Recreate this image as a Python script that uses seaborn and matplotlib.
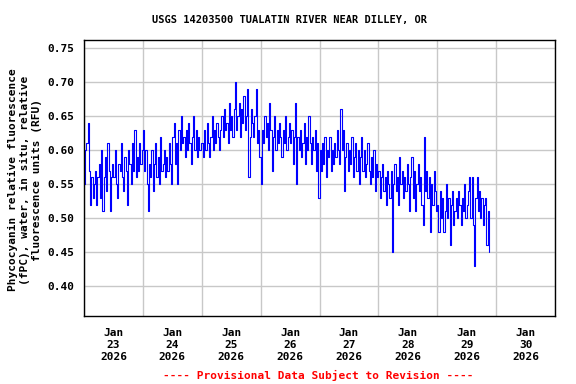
import pandas as pd
import numpy as np
import seaborn as sns
import matplotlib.pyplot as plt
import matplotlib.dates as mdates

# Phycocyanin readings, hundredths of RFU, every 30 min from Jan 23 00:00
jan23 = [55, 60, 61, 64, 57, 52, 56, 53, 55, 57, 52, 56, 58, 53, 60, 51,
         56, 59, 54, 61, 57, 51, 56, 58, 56, 60, 55, 53, 58, 57, 61, 56,
         54, 59, 57, 52, 60, 58, 55, 61, 57, 63, 56, 59, 57, 61, 58, 60]
jan24 = [63, 57, 60, 55, 51, 58, 56, 60, 54, 58, 61, 56, 59, 55, 62, 57,
         58, 60, 56, 59, 57, 61, 58, 55, 62, 64, 58, 61, 55, 63, 60, 65,
         61, 62, 59, 63, 60, 64, 61, 58, 62, 65, 60, 63, 59, 62, 60, 61]
jan25 = [61, 59, 63, 60, 64, 61, 59, 62, 65, 60, 63, 61, 64, 62, 60, 63,
         65, 62, 66, 63, 64, 61, 67, 63, 65, 62, 66, 70, 63, 65, 67, 62,
         66, 64, 68, 63, 65, 69, 56, 62, 66, 64, 62, 65, 69, 61, 63, 59]
jan26 = [55, 63, 61, 65, 62, 64, 60, 67, 63, 57, 62, 65, 60, 63, 61, 64,
         62, 59, 63, 61, 65, 60, 62, 64, 61, 63, 58, 62, 67, 55, 62, 60,
         63, 59, 61, 64, 58, 62, 60, 65, 61, 58, 62, 60, 63, 57, 61, 53]
jan27 = [60, 57, 61, 58, 62, 56, 60, 59, 62, 57, 60, 58, 61, 59, 63, 60,
         58, 66, 60, 63, 54, 59, 61, 57, 60, 58, 62, 56, 59, 61, 57, 60,
         55, 59, 62, 57, 60, 56, 58, 61, 57, 55, 59, 56, 60, 54, 58, 56]
jan28 = [57, 53, 56, 58, 54, 56, 52, 57, 55, 53, 57, 45, 55, 58, 54, 56,
         52, 59, 55, 57, 53, 56, 54, 58, 55, 51, 56, 59, 53, 57, 51, 55,
         58, 54, 56, 52, 49, 62, 54, 57, 53, 56, 48, 55, 52, 57, 54, 51]
jan29 = [52, 48, 54, 50, 53, 48, 51, 55, 50, 53, 46, 52, 54, 49, 51, 53,
         50, 54, 52, 49, 53, 51, 55, 50, 52, 54, 56, 50, 56, 49, 43, 53,
         56, 51, 54, 50, 53, 49, 52, 53, 46, 51, 45]

day_labels = ["Jan\n23\n2026", "Jan\n24\n2026", "Jan\n25\n2026", "Jan\n26\n2026",
              "Jan\n27\n2026", "Jan\n28\n2026", "Jan\n29\n2026", "Jan\n30\n2026"]
y_ticks = [0.40, 0.45, 0.50, 0.55, 0.60, 0.65, 0.70, 0.75]

vals = np.array(jan23 + jan24 + jan25 + jan26 + jan27 + jan28 + jan29) / 100
df = pd.DataFrame({
    "time": pd.date_range("2026-01-23 00:00", periods=len(vals), freq="30min"),
    "rfu": vals,
})

sns.set_style("white")
plt.rcParams["font.family"] = ["DejaVu Sans Mono"]
plt.rcParams["font.weight"] = "bold"
plt.rcParams["text.color"] = "black"
plt.rcParams["xtick.color"] = "black"
plt.rcParams["ytick.color"] = "black"

fig = plt.figure(figsize=(5.76, 3.84), dpi=100)
ax = fig.add_axes([84 / 576, 1 - 316 / 384, 471 / 576, 276 / 384])

sns.lineplot(data=df, x="time", y="rfu", color="#0000ff", linewidth=0.8,
             drawstyle="steps-post", ax=ax)

ax.set_xlim(pd.Timestamp("2026-01-23"), pd.Timestamp("2026-01-31"))
ax.set_ylim(0.356, 0.762)

# gridlines at midnight, labels at noon
ax.xaxis.set_major_locator(mdates.DayLocator())
ax.xaxis.set_major_formatter(plt.NullFormatter())
noon = pd.date_range("2026-01-23 12:00", periods=len(day_labels), freq="D")
ax.set_xticks(mdates.date2num(noon), minor=True)
ax.set_xticklabels(day_labels, minor=True, fontsize=8, fontweight="bold")
ax.set_yticks(y_ticks)
ax.set_yticklabels([f"{v:.2f}" for v in y_ticks], fontsize=8, fontweight="bold")
ax.tick_params(axis="both", which="both", length=0, labelcolor="black")
ax.tick_params(axis="x", which="minor", pad=9)
ax.tick_params(axis="y", pad=7)
ax.grid(True, which="major", color="#c8c8c8", linewidth=1)
ax.set_axisbelow(True)
for s in ax.spines.values():
    s.set_color("black")
    s.set_linewidth(1)
ax.set_xlabel("")
ax.set_ylabel("")

fig.text(289 / 576, 1 - 20 / 384, "USGS 14203500 TUALATIN RIVER NEAR DILLEY, OR",
         ha="center", va="center", fontsize=7.5, fontweight="bold", color="black")
fig.text(25 / 576, 1 - 180 / 384,
         "Phycocyanin relative fluorescence\n(fPC), water, in situ, relative\nfluorescence units (RFU)",
         ha="center", va="center", rotation=90, multialignment="center",
         fontsize=8, fontweight="bold", linespacing=1.3, color="black")
fig.text(318 / 576, 1 - 375 / 384, "---- Provisional Data Subject to Revision ----",
         ha="center", va="center", fontsize=8, fontweight="bold", color="#ff0000")

fig.savefig("out.png", dpi=100)
